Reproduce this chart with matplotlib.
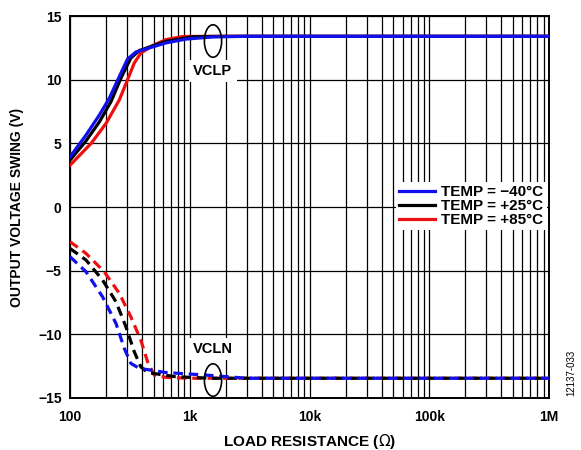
import matplotlib.pyplot as plt
from matplotlib.patches import Ellipse
from matplotlib.ticker import FixedLocator, LogLocator, NullFormatter

plt.rcParams['font.family'] = ['Liberation Sans', 'DejaVu Sans']

# VCLP (solid lines)
vclp_m40_x = [100, 136, 176, 213, 258, 302, 355, 430, 631, 926, 1550, 3000, 1e6]
vclp_m40_y = [3.95, 5.66, 7.24, 8.56, 10.26, 11.63, 12.19, 12.42, 12.9, 13.2, 13.37, 13.42, 13.42]
vclp_25_x = [100, 136, 176, 220, 266, 322, 378, 631, 1050, 2000, 1e6]
vclp_25_y = [3.69, 5.2, 6.7, 8.29, 10.13, 11.71, 12.3, 13.02, 13.38, 13.42, 13.42]
vclp_85_x = [100, 150, 200, 258, 302, 344, 390, 489, 631, 868, 1500, 1e6]
vclp_85_y = [3.29, 5.0, 6.58, 8.42, 10.0, 11.32, 12.1, 12.68, 13.16, 13.4, 13.42, 13.42]

# VCLN (dashed lines)
vcln_m40_x = [100, 136, 187, 242, 284, 322, 378, 631, 1360, 3000, 1e6]
vcln_m40_y = [-3.9, -5.08, -7.05, -9.14, -11.1, -12.28, -12.67, -13.0, -13.2, -13.45, -13.45]
vcln_25_x = [100, 136, 187, 242, 293, 344, 390, 444, 762, 1500, 1e6]
vcln_25_y = [-3.25, -4.16, -5.73, -7.44, -9.4, -11.37, -12.55, -13.0, -13.33, -13.45, -13.45]
vcln_85_x = [100, 136, 193, 258, 322, 390, 444, 505, 631, 1000, 1e6]
vcln_85_y = [-2.72, -3.64, -5.08, -6.78, -8.62, -10.45, -12.15, -13.2, -13.38, -13.45, -13.45]

labels = ['TEMP = \u221240°C', 'TEMP = +25°C', 'TEMP = +85°C']
colors = ['#1010ee', 'black', '#ee1010']

x_ticks = [100, 1e3, 1e4, 1e5, 1e6]
x_ticklabels = ['100', '1k', '10k', '100k', '1M']
y_ticks = [-15, -10, -5, 0, 5, 10, 15]
y_ticklabels = ['\u221215', '\u221210', '\u22125', '0', '5', '10', '15']

fig = plt.figure(figsize=(5.81, 4.5), dpi=100)
ax = fig.add_axes([0.1205, 0.1156, 0.8245, 0.8484])

curves = [(vclp_m40_x, vclp_m40_y, vcln_m40_x, vcln_m40_y),
          (vclp_25_x, vclp_25_y, vcln_25_x, vcln_25_y),
          (vclp_85_x, vclp_85_y, vcln_85_x, vcln_85_y)]
# red first, blue on top
for i in [2, 1, 0]:
    px, py, nx, ny = curves[i]
    ax.plot(px, py, color=colors[i], lw=2.3, label=labels[i], zorder=3 + (2 - i))
    ax.plot(nx, ny, color=colors[i], lw=2.3, ls=(0, (3, 1.8)), zorder=3 + (2 - i))

ax.set_xscale('log')
ax.set_xlim(100, 1e6)
ax.set_ylim(-15, 15)
ax.xaxis.set_major_locator(FixedLocator(x_ticks))
ax.set_xticklabels(x_ticklabels)
ax.xaxis.set_minor_locator(LogLocator(base=10, subs=range(2, 10)))
ax.xaxis.set_minor_formatter(NullFormatter())
ax.set_yticks(y_ticks)
ax.set_yticklabels(y_ticklabels)
ax.grid(True, which='both', axis='x', color='black', lw=0.9)
ax.grid(True, which='major', axis='y', color='black', lw=0.9)
ax.tick_params(which='both', length=0)
for lab in ax.get_xticklabels() + ax.get_yticklabels():
    lab.set_fontweight('bold')
    lab.set_fontsize(10)
ax.tick_params(axis='x', pad=9)
ax.tick_params(axis='y', pad=6)
for s in ax.spines.values():
    s.set_linewidth(1.4)

ax.set_ylabel('OUTPUT VOLTAGE SWING (V)', fontsize=10, fontweight='bold', labelpad=10)
ax.set_xlabel(r'LOAD RESISTANCE ($\Omega$)', fontsize=11, fontweight='bold')
ax.xaxis.set_label_coords(0.5, -0.088)

# ellipses round the clamp levels
ax.add_patch(Ellipse((0.2985, 0.935), 0.036, 0.085, transform=ax.transAxes,
                     fill=False, lw=1.2, color='black', zorder=6))
ax.add_patch(Ellipse((0.2985, 0.047), 0.036, 0.085, transform=ax.transAxes,
                     fill=False, lw=1.2, color='black', zorder=6))
ax.text(0.298, 0.856, 'VCLP', transform=ax.transAxes, ha='center', va='center',
        fontsize=10.5, fontweight='bold', zorder=6,
        bbox=dict(facecolor='white', edgecolor='none', pad=3))
ax.text(0.298, 0.128, 'VCLN', transform=ax.transAxes, ha='center', va='center',
        fontsize=10.5, fontweight='bold', zorder=6,
        bbox=dict(facecolor='white', edgecolor='none', pad=3))

h, l = ax.get_legend_handles_labels()
leg = ax.legend(h[::-1], l[::-1], loc='upper right', bbox_to_anchor=(0.995, 0.565),
                frameon=True, fancybox=False, framealpha=1, facecolor='white',
                edgecolor='none', borderpad=0.2, labelspacing=0.0,
                handlelength=2.4, handletextpad=0.4, borderaxespad=0,
                prop={'weight': 'bold', 'size': 11})
leg.set_zorder(7)

fig.text(0.983, 0.12, '12137-033', rotation=90, fontsize=7, ha='center', va='bottom')

fig.savefig('out.png', dpi=100)
